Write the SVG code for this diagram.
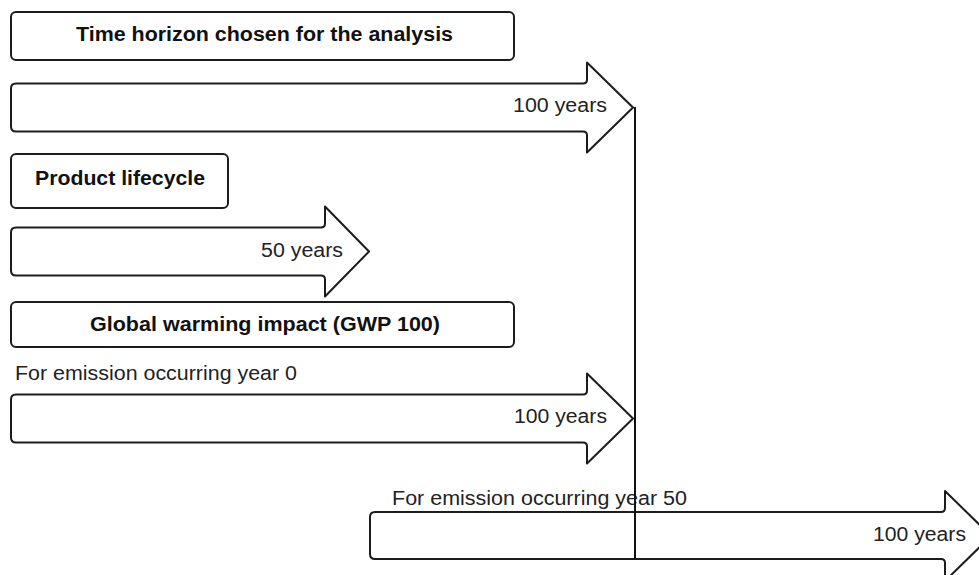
<svg xmlns="http://www.w3.org/2000/svg" width="979" height="575" viewBox="0 0 979 575">
<style>
.shape{fill:#fff;stroke:#1c1c1c;stroke-width:2;stroke-linejoin:round}
.t{font-family:"Liberation Sans",Arial,sans-serif;font-size:20px;fill:#222}
.b{font-family:"Liberation Sans",Arial,sans-serif;font-size:20px;font-weight:bold;fill:#111}
.line{stroke:#111;stroke-width:2;fill:none}
</style>
<rect width="979" height="575" fill="#fff"/>
<g id="box-time-horizon">
<rect class="shape" x="11" y="12" width="503" height="48" rx="5"/>
<text class="b" x="76" y="41" textLength="377" lengthAdjust="spacingAndGlyphs">Time horizon chosen for the analysis</text>
</g>
<g id="arrow-time-horizon">
<path class="shape" d="M16,83.5 H583 Q587,83.5 587,79.5 V62.5 L633,107.5 L587,152.5 V135.5 Q587,131.5 583,131.5 H16 Q11,131.5 11,126.5 V88.5 Q11,83.5 16,83.5 Z"/>
<text class="t" x="513" y="112" textLength="94" lengthAdjust="spacingAndGlyphs">100 years</text>
</g>
<g id="box-product-lifecycle">
<rect class="shape" x="11" y="154" width="217" height="54" rx="5"/>
<text class="b" x="35" y="185" textLength="170" lengthAdjust="spacingAndGlyphs">Product lifecycle</text>
</g>
<g id="arrow-product-lifecycle">
<path class="shape" d="M16,227.5 H321 Q325,227.5 325,223.5 V206.5 L369,251.5 L325,296.5 V279.5 Q325,275.5 321,275.5 H16 Q11,275.5 11,270.5 V232.5 Q11,227.5 16,227.5 Z"/>
<text class="t" x="261" y="257" textLength="82" lengthAdjust="spacingAndGlyphs">50 years</text>
</g>
<g id="box-gwp">
<rect class="shape" x="11" y="302" width="503" height="45" rx="5"/>
<text class="b" x="90" y="331" textLength="350" lengthAdjust="spacingAndGlyphs">Global warming impact (GWP 100)</text>
</g>
<g id="arrow-gwp-year0">
<text class="t" x="15" y="380" textLength="282" lengthAdjust="spacingAndGlyphs">For emission occurring year 0</text>
<path class="shape" d="M16,394.5 H583 Q587,394.5 587,390.5 V373.5 L633,418.5 L587,463.5 V446.5 Q587,442.5 583,442.5 H16 Q11,442.5 11,437.5 V399.5 Q11,394.5 16,394.5 Z"/>
<text class="t" x="514" y="423" textLength="93" lengthAdjust="spacingAndGlyphs">100 years</text>
</g>
<g id="arrow-gwp-year50">
<path class="shape" d="M375,512 H941 Q945,512 945,508 V491 L991,536 L945,581 V563 Q945,559 941,559 H375 Q370,559 370,554 V517 Q370,512 375,512 Z"/>
<text class="t" x="392" y="505" textLength="295" lengthAdjust="spacingAndGlyphs">For emission occurring year 50</text>
<text class="t" x="873" y="541" textLength="93" lengthAdjust="spacingAndGlyphs">100 years</text>
</g>
<g id="connectors">
<line class="line" x1="635" y1="107" x2="635" y2="559"/>
</g>
</svg>
